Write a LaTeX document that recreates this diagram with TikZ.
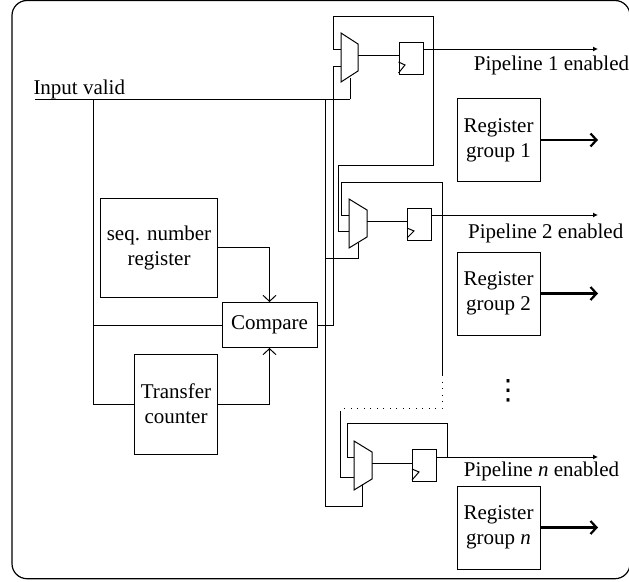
\documentclass[tikz,border=0pt]{standalone}
\usepackage{fontspec}
\setmainfont{Liberation Serif}
\newfontfamily\dotfont{DejaVu Sans}
\usetikzlibrary{arrows.meta}
\begin{document}
\begin{tikzpicture}[x=1pt,y=-1pt,line width=1pt,line join=miter,>={Straight Barb[length=6pt,width=13pt]},font=\fontsize{21}{25}\selectfont,
	block/.style={draw,inner sep=0pt,align=center},
	ff/.style={draw,inner sep=0pt,minimum width=24pt,minimum height=32pt},
	pipe/.style={-{Latex[length=5pt,width=5pt]}},
	group/.style={line width=2.2pt}]
	\useasboundingbox (0,0) rectangle (629,581);
	\draw[rounded corners=15pt,line width=1.2pt] (12,0.5) rectangle (630,578.7);
	% left part
	\node[block,minimum width=117pt,minimum height=99pt] (seq) at (159,247.5) {seq. number\\register};
	\node[block,minimum width=83pt,minimum height=100pt] (cnt) at (176,404) {Transfer\\counter};
	\node[block,minimum width=95pt,minimum height=45pt] (cmp) at (269.5,325) {Compare};
	\node[anchor=south west,inner sep=0pt] (inp) at (33,99) {Input valid};
	\coordinate (ina) at (35,99);
	\coordinate (inb) at (93,99);
	\coordinate (inc) at (325,99);
	\coordinate (ind) at (350,99);
	\draw (ina)--(ind);
	\draw (inb)--(inb|-cnt.west)--(cnt.west);
	\draw (inb|-cmp.west)--(cmp.west);
	\draw[->] (seq.east)-|(cmp.north);
	\draw[->] (cnt.east)-|(cmp.south);
	% first pipeline
	\draw (341,33)--(358,44)--(358,71)--(341,82)--cycle;
	\node[ff] (ffa) at (411,58) {};
	\draw (ffa.west|-0,62)--(405,65)--(ffa.west|-0,73);
	\coordinate (fba) at (433,49);
	\draw (358,55)--(ffa.west|-0,55);
	\draw[pipe] (ffa.east|-fba)--(598,49);
	\draw (fba)--(433,16)--(333,16)--(333,49)--(341,49);
	\draw (cmp.east)-|(333,66)--(341,66);
	\draw (ind)--(350,78);
	\node[inner sep=0pt] (lba) at (551.5,65) {Pipeline 1 enabled};
	\node[block,minimum size=83pt] (rga) at (498.5,140) {Register\\group 1};
	\coordinate (oga) at (598,140);
	\draw[->,group] (rga.east)--(oga);
	% second pipeline
	\draw (349,199)--(367,210)--(367,237)--(349,248)--cycle;
	\node[ff] (ffb) at (419.5,224) {};
	\draw (ffb.west|-0,228)--(414,231)--(ffb.west|-0,238);
	\coordinate (fbb) at (442,215);
	\draw (367,221)--(ffb.west|-0,221);
	\draw[pipe] (ffb.east|-fbb)--(598,215);
	\draw (fbb)--(442,182)--(341.5,182)--(341.5,215)--(349,215);
	\draw (fba)--(433,165)--(338,165)--(338,231)--(349,231);
	\draw (inc)--(325,506)--(362.5,506)--(362.5,485);
	\draw (325,258)--(358.5,258)--(358.5,243);
	\node[inner sep=0pt] (lbb) at (545.7,233) {Pipeline 2 enabled};
	\node[block,minimum size=83pt] (rgb) at (498.5,293.5) {Register\\group 2};
	\coordinate (ogb) at (598,293.5);
	\draw[->,group] (rgb.east)--(ogb);
	% dots
	\coordinate (dta) at (442,375);
	\coordinate (dtb) at (340,408);
	\draw (fbb)--(dta);
	\draw[dash pattern=on 1pt off 5.5pt] (dta)|-(dtb);
	\node[inner sep=0pt] (dts) at (508,391) {\dotfont\fontsize{28}{28}\selectfont ⋮};
	% last pipeline
	\draw (354,441)--(372,452)--(372,479)--(354,490)--cycle;
	\node[ff] (ffn) at (424.5,465) {};
	\draw (ffn.west|-0,469)--(419,472)--(ffn.west|-0,480);
	\coordinate (fbn) at (447,457);
	\draw (372,463)--(ffn.west|-0,463);
	\draw[pipe] (ffn.east|-fbn)--(598,457);
	\draw (fbn)--(447,423)--(347,423)--(347,457)--(354,457);
	\draw (340,411)--(340,477)--(354,477);
	\node[inner sep=0pt] (lbn) at (541.5,471) {Pipeline \textit{n} enabled};
	\node[block,minimum size=83pt] (rgn) at (498.5,527.5) {Register\\group \textit{n}};
	\coordinate (ogn) at (598,527.5);
	\draw[->,group] (rgn.east)--(ogn);
\end{tikzpicture}
\end{document}
